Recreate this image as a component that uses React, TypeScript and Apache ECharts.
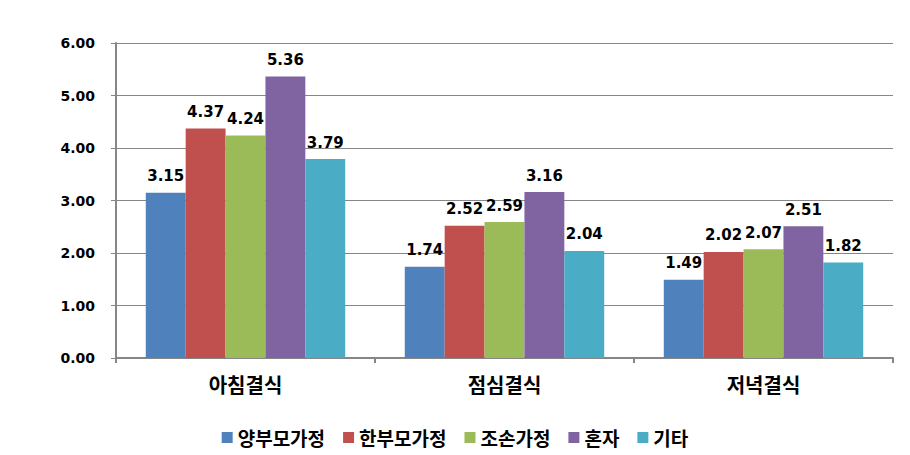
import React, { useEffect, useRef } from "react";
import * as echarts from "echarts";

const categories = ["아침결식", "점심결식", "저녁결식"];
const seriesNames = ["양부모가정", "한부모가정", "조손가정", "혼자", "기타"];
const valuesBoth = [3.15, 1.74, 1.49];
const valuesSingle = [4.37, 2.52, 2.02];
const valuesGrand = [4.24, 2.59, 2.07];
const valuesAlone = [5.36, 3.16, 2.51];
const valuesOther = [3.79, 2.04, 1.82];
const yTicks = { min: 0, max: 6, interval: 1 };

const colors = ["#4F81BD", "#C0504D", "#9BBB59", "#8064A2", "#4BACC6"];
const numFont = "'DejaVu Sans', Verdana, sans-serif";
const krFont = "'Noto Sans CJK KR', 'Noto Sans', sans-serif";

export default function App() {
  const ref = useRef<HTMLDivElement>(null);
  useEffect(() => {
    if (!ref.current) return;
    const chart = echarts.init(ref.current, undefined, { renderer: "svg" });
    const data = [valuesBoth, valuesSingle, valuesGrand, valuesAlone, valuesOther];
    chart.setOption({
      animation: false,
      color: colors,
      grid: { left: 116, right: 17, top: 43, bottom: 97, containLabel: false },
      legend: {
        bottom: 3,
        left: "center",
        itemWidth: 11,
        itemHeight: 11,
        itemGap: 18,
        icon: "rect",
        textStyle: { fontFamily: krFont, fontWeight: "bold", fontSize: 19, color: "#000" },
        data: seriesNames,
      },
      xAxis: {
        type: "category",
        data: categories,
        axisLine: { lineStyle: { color: "#868686", width: 2 } },
        axisTick: { show: true, length: 5, lineStyle: { color: "#868686", width: 2 } },
        axisLabel: { fontFamily: krFont, fontWeight: "bold", fontSize: 20, color: "#000", margin: 16 },
      },
      yAxis: {
        type: "value",
        min: yTicks.min,
        max: yTicks.max,
        interval: yTicks.interval,
        axisLine: { show: true, lineStyle: { color: "#868686", width: 2 } },
        axisTick: { show: true, length: 5, lineStyle: { color: "#868686", width: 1 } },
        axisLabel: {
          formatter: (v: number) => v.toFixed(2),
          fontFamily: numFont,
          fontWeight: "bold",
          fontSize: 14,
          color: "#000",
          margin: 21,
        },
        splitLine: { show: true, lineStyle: { color: "#868686", width: 1 } },
      },
      series: seriesNames.map((name, i) => ({
        name,
        type: "bar",
        data: data[i],
        barGap: "0%",
        barCategoryGap: "23%",
        itemStyle: { color: colors[i] },
        label: {
          show: true,
          position: "top",
          distance: 9,
          formatter: (p: any) => Number(p.value).toFixed(2),
          fontFamily: numFont,
          fontWeight: "bold",
          fontSize: 15,
          color: "#000",
        },
      })),
    });
    return () => chart.dispose();
  }, []);
  return (
    <div
      ref={ref}
      style={{ position: "fixed", left: 0, top: 0, width: 910, height: 455, background: "#fff" }}
    />
  );
}
